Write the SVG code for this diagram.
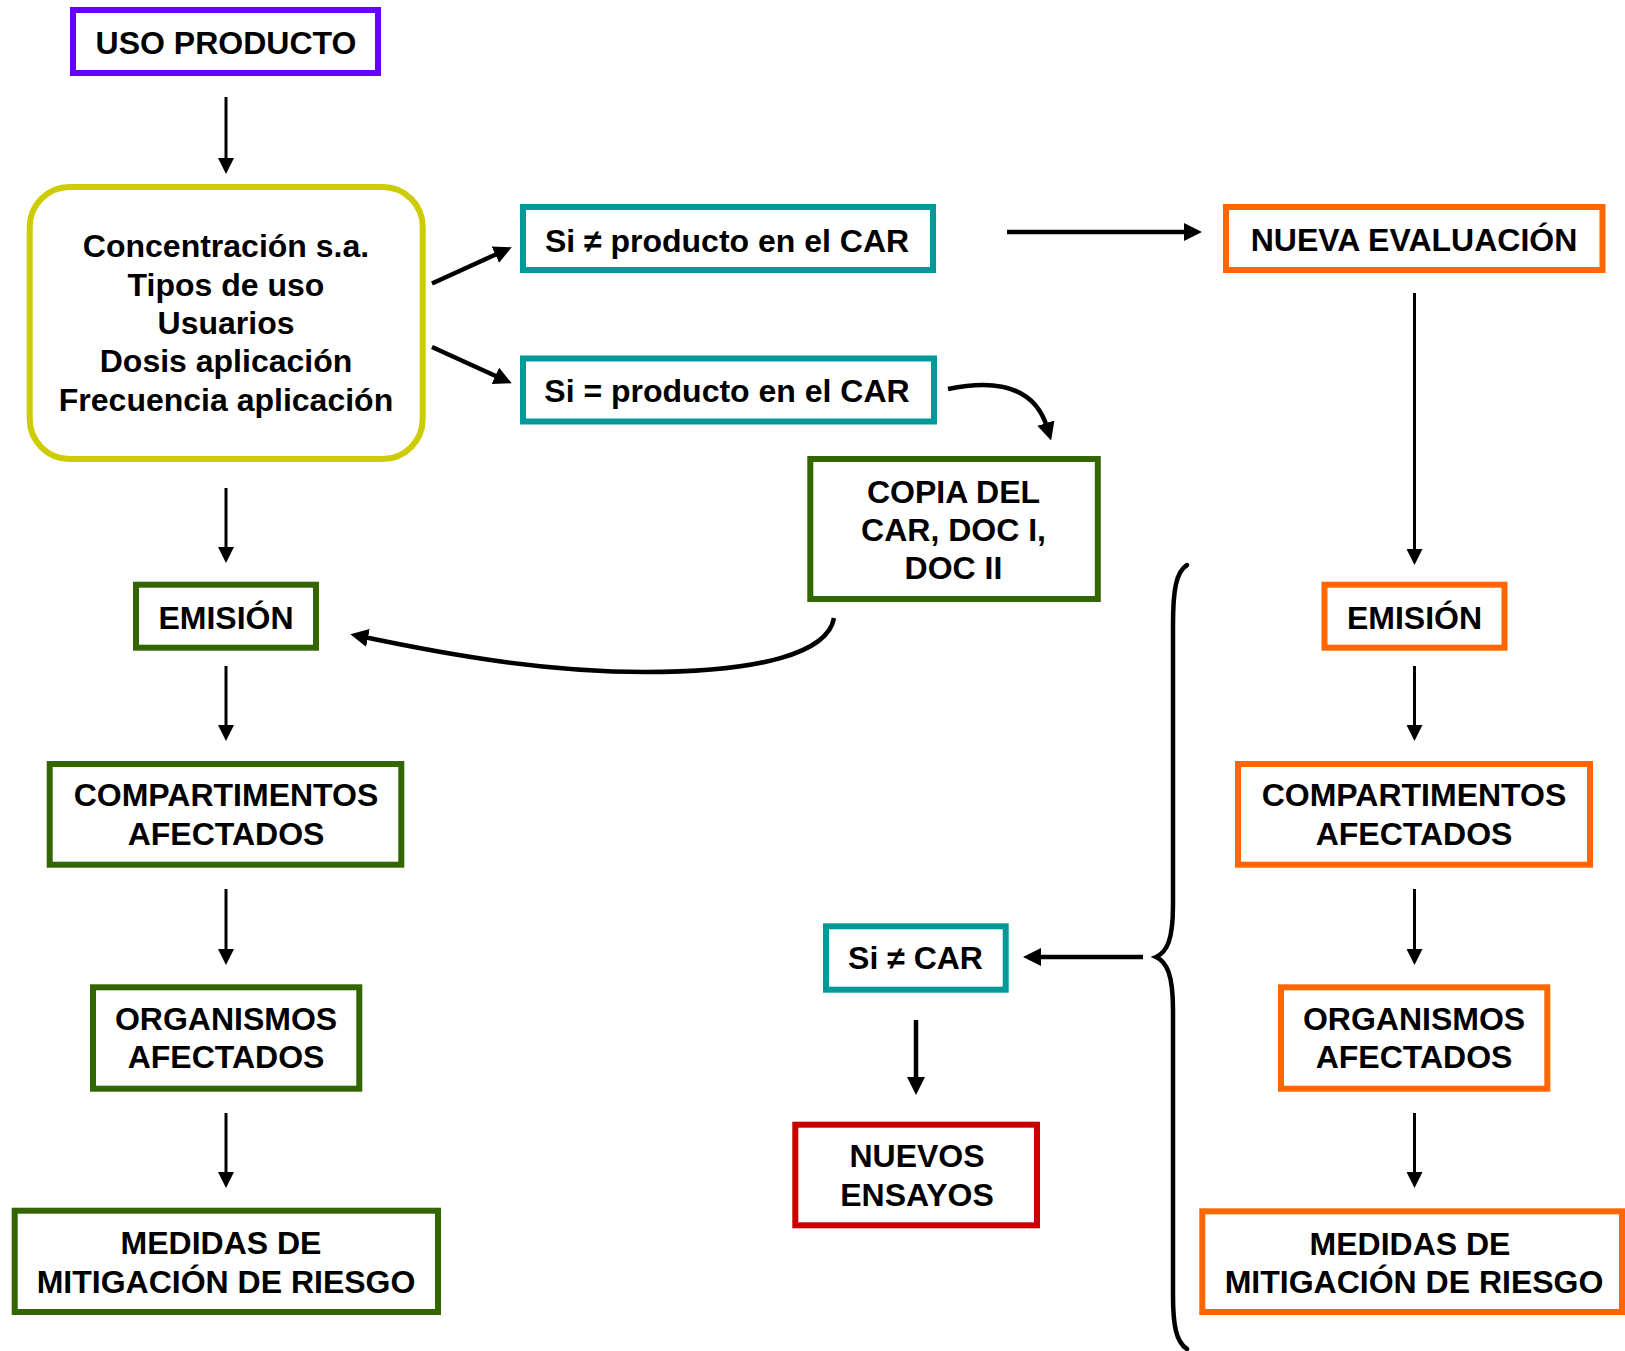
<svg xmlns="http://www.w3.org/2000/svg" width="1625" height="1351" viewBox="0 0 1625 1351">
<defs>
<style>
.box{fill:#fff;stroke-width:6}
.purple{stroke:#6600FF}
.yellow{stroke:#CCCC00}
.teal{stroke:#009999}
.green{stroke:#336600}
.orange{stroke:#FF6600}
.red{stroke:#CC0000}
.t{font-family:"Liberation Sans",Arial,"DejaVu Sans",sans-serif;font-weight:bold;font-size:32px;fill:#000;text-anchor:middle}
.thin{stroke:#000;stroke-width:3;fill:none;marker-end:url(#ah)}
.thick{stroke:#000;stroke-width:4.5;fill:none;marker-end:url(#ahb)}
.brace{stroke:#000;stroke-width:4.5;fill:none;stroke-linecap:round}
</style>
<marker id="ah" markerUnits="userSpaceOnUse" markerWidth="16" markerHeight="16" refX="4" refY="8" orient="auto"><path d="M0,0 L16,8 L0,16 z" fill="#000"/></marker>
<marker id="ahb" markerUnits="userSpaceOnUse" markerWidth="18" markerHeight="18" refX="4" refY="9" orient="auto"><path d="M0,0 L18,9 L0,18 z" fill="#000"/></marker>
</defs>
<rect x="0" y="0" width="1625" height="1351" fill="#fff"/>

<g id="connectors">
<line class="thin" x1="226" y1="97" x2="226" y2="162"/>
<line class="thin" x1="226" y1="488" x2="226" y2="551"/>
<line class="thin" x1="226" y1="666" x2="226" y2="729"/>
<line class="thin" x1="226" y1="889" x2="226" y2="953"/>
<line class="thin" x1="226" y1="1113" x2="226" y2="1176"/>
<line class="thin" x1="1414.5" y1="293" x2="1414.5" y2="553"/>
<line class="thin" x1="1414.5" y1="666" x2="1414.5" y2="729"/>
<line class="thin" x1="1414.5" y1="889" x2="1414.5" y2="953"/>
<line class="thin" x1="1414.5" y1="1113" x2="1414.5" y2="1176"/>
<line class="thick" x1="432" y1="283.5" x2="499" y2="253"/>
<line class="thick" x1="432" y1="347" x2="499" y2="377.5"/>
<line class="thick" x1="1007" y1="232" x2="1188" y2="232"/>
<line class="thick" x1="1143" y1="957" x2="1037" y2="957"/>
<line class="thick" x1="916" y1="1020" x2="916" y2="1081"/>
<path class="thick" d="M 948 389 Q 1030 372 1047 427"/>
<path class="thick" d="M 834 618 C 828 653 760 672 645 672 C 545 672 450 655 364 637"/>
<path class="brace" d="M 1187 565 C 1176 572 1173 590 1173 625 L 1173 905 C 1173 940 1167 952 1156 957 C 1167 962 1173 975 1173 1010 L 1173 1295 C 1173 1325 1176 1342 1187 1349"/>
</g>

<g id="uso-producto">
<rect class="box purple" x="73" y="10" width="305" height="63"/>
<text class="t" x="226" y="54">USO PRODUCTO</text>
</g>

<g id="parametros">
<rect class="box yellow" x="29.7" y="187" width="393" height="272" rx="40" ry="40"/>
<text class="t" x="226" y="257">Concentración s.a.</text>
<text class="t" x="226" y="296">Tipos de uso</text>
<text class="t" x="226" y="334">Usuarios</text>
<text class="t" x="226" y="372">Dosis aplicación</text>
<text class="t" x="226" y="411">Frecuencia aplicación</text>
</g>

<g id="si-distinto-producto">
<rect class="box teal" x="523" y="207" width="410" height="63"/>
<text class="t" x="727" y="252">Si ≠ producto en el CAR</text>
</g>

<g id="si-igual-producto">
<rect class="box teal" x="523" y="358.5" width="411" height="63"/>
<text class="t" x="727" y="402">Si = producto en el CAR</text>
</g>

<g id="nueva-evaluacion">
<rect class="box orange" x="1226" y="207" width="376.5" height="63"/>
<text class="t" x="1414" y="251">NUEVA EVALUACIÓN</text>
</g>

<g id="copia-car">
<rect class="box green" x="810.3" y="459" width="287.5" height="140"/>
<text class="t" x="953.5" y="503">COPIA DEL</text>
<text class="t" x="953.5" y="541">CAR, DOC I,</text>
<text class="t" x="953.5" y="579">DOC II</text>
</g>

<g id="emision-izq">
<rect class="box green" x="136" y="584.7" width="180" height="63"/>
<text class="t" x="226" y="629">EMISIÓN</text>
</g>

<g id="compartimentos-izq">
<rect class="box green" x="49.7" y="764" width="351.6" height="100.7"/>
<text class="t" x="226" y="806">COMPARTIMENTOS</text>
<text class="t" x="226" y="845">AFECTADOS</text>
</g>

<g id="organismos-izq">
<rect class="box green" x="93" y="987.3" width="266.3" height="101.4"/>
<text class="t" x="226" y="1030">ORGANISMOS</text>
<text class="t" x="226" y="1068">AFECTADOS</text>
</g>

<g id="medidas-izq">
<rect class="box green" x="14.7" y="1210.7" width="423.3" height="101.3"/>
<text class="t" x="221" y="1254">MEDIDAS DE</text>
<text class="t" x="226" y="1293">MITIGACIÓN DE RIESGO</text>
</g>

<g id="emision-der">
<rect class="box orange" x="1324.5" y="584.7" width="180" height="63"/>
<text class="t" x="1414.5" y="629">EMISIÓN</text>
</g>

<g id="compartimentos-der">
<rect class="box orange" x="1238" y="764" width="352" height="100.7"/>
<text class="t" x="1414" y="806">COMPARTIMENTOS</text>
<text class="t" x="1414" y="845">AFECTADOS</text>
</g>

<g id="organismos-der">
<rect class="box orange" x="1281" y="987.3" width="266.3" height="101.4"/>
<text class="t" x="1414" y="1030">ORGANISMOS</text>
<text class="t" x="1414" y="1068">AFECTADOS</text>
</g>

<g id="medidas-der">
<rect class="box orange" x="1202.3" y="1211.3" width="419.7" height="100.7"/>
<text class="t" x="1410" y="1255">MEDIDAS DE</text>
<text class="t" x="1414" y="1293">MITIGACIÓN DE RIESGO</text>
</g>

<g id="si-distinto-car">
<rect class="box teal" x="826" y="926.3" width="179.7" height="63.4"/>
<text class="t" x="915.5" y="969">Si ≠ CAR</text>
</g>

<g id="nuevos-ensayos">
<rect class="box red" x="795.3" y="1124.7" width="241.7" height="100.6"/>
<text class="t" x="917" y="1167">NUEVOS</text>
<text class="t" x="917" y="1206">ENSAYOS</text>
</g>
</svg>
